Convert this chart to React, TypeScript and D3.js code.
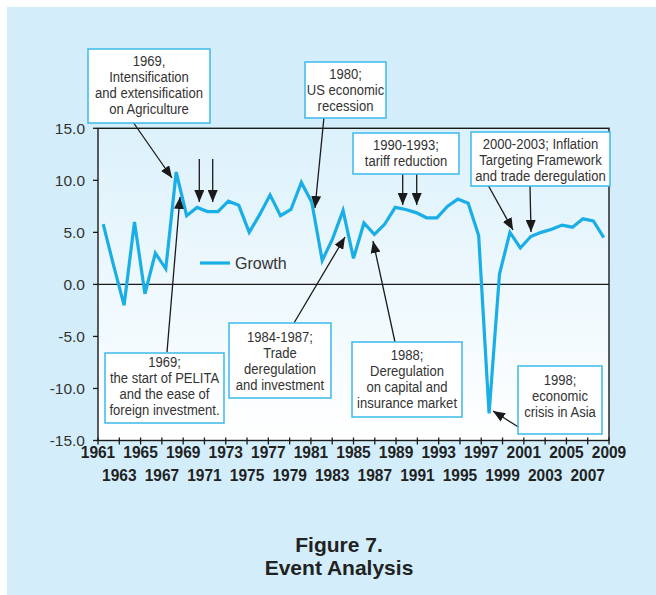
import React from "react";
import * as d3 from "d3";

const years = [
  1961, 1962, 1963, 1964, 1965, 1966, 1967, 1968, 1969, 1970,
  1971, 1972, 1973, 1974, 1975, 1976, 1977, 1978, 1979, 1980,
  1981, 1982, 1983, 1984, 1985, 1986, 1987, 1988, 1989, 1990,
  1991, 1992, 1993, 1994, 1995, 1996, 1997, 1998, 1999, 2000,
  2001, 2002, 2003, 2004, 2005, 2006, 2007, 2008, 2009,
];

const growth = [
  5.8, 1.8, -2.0, 6.0, -0.9, 3.0, 1.5, 10.8, 6.6, 7.4,
  7.0, 7.0, 8.0, 7.6, 5.0, 6.7, 8.6, 6.6, 7.2, 9.8,
  7.9, 2.3, 4.4, 7.1, 2.5, 5.9, 4.8, 5.8, 7.4, 7.2,
  6.9, 6.4, 6.4, 7.5, 8.2, 7.8, 4.7, -12.4, 1.0, 5.0,
  3.5, 4.6, 5.0, 5.3, 5.7, 5.5, 6.3, 6.1, 4.5,
];

const yTicks = [15, 10, 5, 0, -5, -10, -15];

const xTickLabels = [
  "1961", "1963", "1965", "1967", "1969", "1971", "1973", "1975", "1977",
  "1979", "1981", "1983", "1985", "1987", "1989", "1991", "1993", "1995",
  "1997", "1999", "2001", "2003", "2005", "2007", "2009",
];

const seriesName = "Growth";

const annotations = [
  { x: 88, y: 49, w: 122, h: 74, first: 61, lines: ["1969,", "Intensification", "and extensification", "on Agriculture"] },
  { x: 305, y: 62, w: 81, h: 56, first: 74, lines: ["1980;", "US economic", "recession"] },
  { x: 353, y: 133, w: 106, h: 41, first: 145, lines: ["1990-1993;", "tariff reduction"] },
  { x: 471, y: 132, w: 139, h: 54, first: 143.5, lines: ["2000-2003; Inflation", "Targeting Framework", "and trade deregulation"] },
  { x: 105, y: 353, w: 119, h: 70, first: 362, lines: ["1969;", "the start of PELITA", "and the ease of", "foreign investment."] },
  { x: 229, y: 323, w: 102, h: 75, first: 336.7, lines: ["1984-1987;", "Trade", "deregulation", "and investment"] },
  { x: 352, y: 342, w: 110, h: 75, first: 355, lines: ["1988;", "Deregulation", "on capital and", "insurance market"] },
  { x: 518, y: 366, w: 84, h: 68, first: 380, lines: ["1998;", "economic", "crisis in Asia"] },
];

const arrows = [
  [133, 122, 172, 178],
  [199.3, 159, 199.3, 202],
  [212.7, 159, 212.7, 202],
  [324, 117, 315, 208],
  [167, 352, 180, 197],
  [294, 323, 345, 237],
  [395, 342, 373, 241],
  [402.7, 174, 402.7, 205],
  [416.7, 174, 416.7, 205],
  [488, 185, 513, 230],
  [530, 186, 531, 232],
  [528, 433, 493, 411],
];

export default function App() {
  const W = 656;
  const H = 595;
  const left = 98;
  const right = 609;
  const top = 128.3;
  const bottom = 440.5;

  const x = d3.scalePoint<number>().domain(years).range([left, right]).padding(0.5);
  const xt = d3.scaleLinear().domain([0, xTickLabels.length - 1]).range([left, right]);
  const y = d3.scaleLinear().domain([-15, 15]).range([bottom, top]);

  const line = d3
    .line<number>()
    .x((_, i) => x(years[i]) as number)
    .y((d) => y(d));

  const textColor = "#333333";
  const cyan = "#1aaee6";
  const boxFont = "'Liberation Sans', Arial, sans-serif";

  return (
    <svg width={W} height={H} style={{ position: "absolute", left: 0, top: 0 }}>
      <defs>
        <linearGradient id="plotGrad" x1="0" y1="0" x2="0" y2="1">
          <stop offset="0" stopColor="#dcf1fb" />
          <stop offset="1" stopColor="#ffffff" />
        </linearGradient>
        <marker
          id="arrowHead"
          markerUnits="userSpaceOnUse"
          markerWidth={12}
          markerHeight={10}
          refX={12}
          refY={5}
          orient="auto"
        >
          <path d="M0,0 L12,5 L0,10 z" fill="#1a1a1a" />
        </marker>
      </defs>
      <rect x={0} y={0} width={W} height={H} fill="#ffffff" />
      <rect x={7} y={7} width={W - 7} height={H - 7} fill="#d3eefa" />

      {/* plot area */}
      <rect x={left} y={top} width={right - left} height={bottom - top} fill="url(#plotGrad)" />

      {/* zero line */}
      <line x1={left} x2={right} y1={y(0)} y2={y(0)} stroke="#1a1a1a" strokeWidth={1.3} />

      {/* series */}
      <path d={line(growth) || ""} fill="none" stroke={cyan} strokeWidth={3.2} strokeLinejoin="miter" />

      {/* border */}
      <rect x={left} y={top} width={right - left} height={bottom - top} fill="none" stroke="#1a1a1a" strokeWidth={1.4} />

      {/* y ticks and labels */}
      {yTicks.map((t) => (
        <g key={t}>
          <line x1={left - 5} x2={left} y1={y(t)} y2={y(t)} stroke="#1a1a1a" strokeWidth={1.3} />
          <text
            x={85}
            y={y(t) + 5.5}
            textAnchor="end"
            fontFamily="'Liberation Sans', Arial, sans-serif"
            fontSize={15.5}
            fill={textColor}
          >
            {t.toFixed(1)}
          </text>
        </g>
      ))}

      {/* x ticks and labels */}
      {xTickLabels.map((lab, i) => (
        <g key={lab}>
          <line x1={xt(i)} x2={xt(i)} y1={bottom - 3} y2={bottom + 4} stroke="#1a1a1a" strokeWidth={1.3} />
          <text
            transform={`translate(${xt(i)},${i % 2 === 0 ? 458 : 481}) scale(0.94,1)`}
            textAnchor="middle"
            fontFamily="'Liberation Sans', Arial, sans-serif"
            fontWeight="bold"
            fontSize={16.5}
            fill="#222222"
          >
            {lab}
          </text>
        </g>
      ))}

      {/* legend */}
      <line x1={200} x2={230} y1={263} y2={263} stroke={cyan} strokeWidth={3.2} />
      <text x={235} y={269} fontFamily="'Liberation Sans', Arial, sans-serif" fontSize={16} fill={textColor}>
        {seriesName}
      </text>

      {/* arrows */}
      {arrows.map((a, i) => (
        <line
          key={i}
          x1={a[0]}
          y1={a[1]}
          x2={a[2]}
          y2={a[3]}
          stroke="#1a1a1a"
          strokeWidth={1.3}
          markerEnd="url(#arrowHead)"
        />
      ))}

      {/* annotation boxes */}
      {annotations.map((b, i) => (
        <g key={i}>
          <rect x={b.x} y={b.y} width={b.w} height={b.h} fill="#ffffff" stroke="#3bb9ea" strokeWidth={1.5} />
          {b.lines.map((ln, j) => (
            <text
              key={j}
              transform={`translate(${b.x + b.w / 2},${b.first + j * 16 + 5.2}) scale(0.87,1)`}
              textAnchor="middle"
              fontFamily={boxFont}
              fontSize={15}
              fill={textColor}
            >
              {ln}
            </text>
          ))}
        </g>
      ))}

      {/* title */}
      <text x={339} y={552} textAnchor="middle" fontFamily="'Liberation Sans', Arial, sans-serif" fontWeight="bold" fontSize={21} fill="#222222">
        Figure 7.
      </text>
      <text x={339} y={575} textAnchor="middle" fontFamily="'Liberation Sans', Arial, sans-serif" fontWeight="bold" fontSize={21} fill="#222222">
        Event Analysis
      </text>
    </svg>
  );
}
